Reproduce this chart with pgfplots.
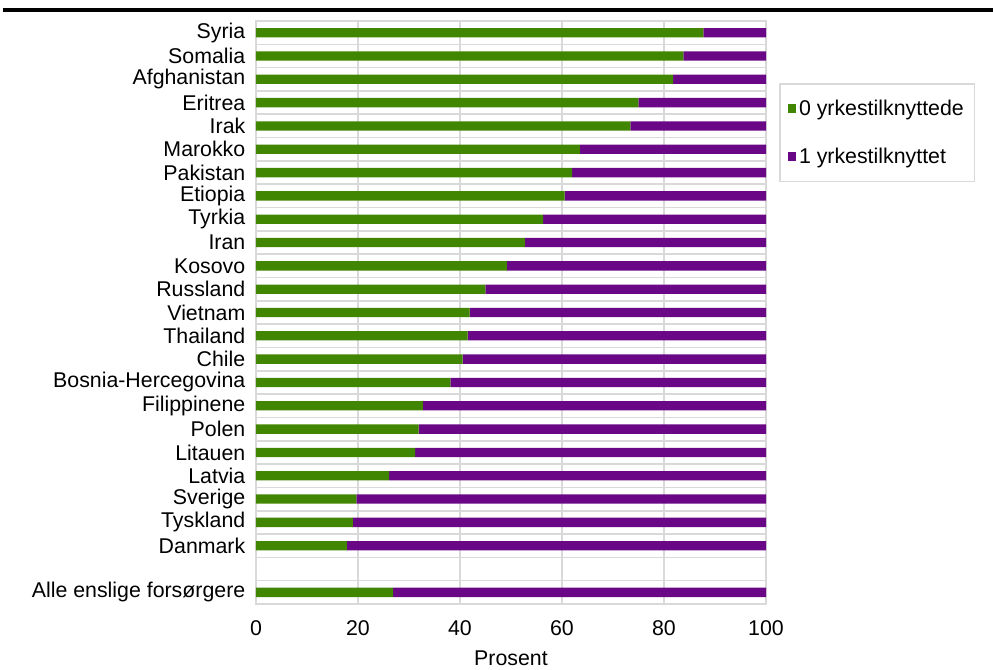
\documentclass[border=0pt]{standalone}
\usepackage{pgfplots}
\pgfplotsset{compat=1.18}
\usepackage{fontspec}
\setmainfont{Liberation Sans}
\definecolor{cgreen}{RGB}{64,134,0}
\definecolor{cpurple}{RGB}{105,7,134}
\definecolor{cgrid}{RGB}{217,217,217}
\begin{document}
\begin{tikzpicture}
\path[use as bounding box] (-192pt,-48.75pt) rectangle (552.75pt,453pt);
\draw[line width=3.4pt] (-189.75pt,445.5pt) -- (552.75pt,445.5pt);
\begin{axis}[
  at={(0pt,0pt)}, anchor=south west,
  xbar stacked, y dir=reverse,
  scale only axis, width=382.5pt, height=437.25pt,
  xmin=0, xmax=100, ymin=-0.5, ymax=24.5,
  bar width=7pt,
  xtick={0,20,...,100},
  ytick={0,...,22,24},
  yticklabels={Syria,Somalia,Afghanistan,Eritrea,Irak,Marokko,Pakistan,Etiopia,Tyrkia,Iran,Kosovo,Russland,Vietnam,Thailand,Chile,Bosnia-Hercegovina,Filippinene,Polen,Litauen,Latvia,Sverige,Tyskland,Danmark,Alle enslige forsørgere},
  minor ytick={0.5,1.5,...,23.5},
  xmajorgrids, yminorgrids,
  major grid style={cgrid, line width=1.2pt},
  minor grid style={cgrid, line width=1.2pt},
  axis line style={cgrid, line width=1.2pt},
  major tick length=0pt, minor tick length=0pt,
  tick label style={font=\fontsize{16}{18}\selectfont},
  /pgf/number format/assume math mode=true,
  yticklabel style={xshift=-4.5pt},
  xticklabel style={yshift=-9pt},
  xlabel={Prosent},
  xlabel style={font=\fontsize{16}{18}\selectfont, yshift=-4.5pt},
  legend style={at={(1.0255,0.8937)}, anchor=north west, draw=cgrid, line width=1.2pt,
    font=\fontsize{16}{18}\selectfont, row sep=19pt, inner xsep=6pt, inner ysep=10pt, cells={anchor=west}},
  legend image code/.code={\fill[#1] (0pt,-3.2pt) rectangle (6.4pt,3.2pt);},
  legend cell align=left,
]
\addplot[fill=cgreen, draw=none] coordinates {
(87.7,0) (83.8,1) (81.8,2) (75.0,3) (73.4,4) (63.5,5) (62.0,6) (60.5,7) (56.3,8) (52.7,9) (49.2,10) (45.0,11) (41.9,12) (41.5,13) (40.5,14) (38.1,15) (32.7,16) (31.9,17) (31.2,18) (26.1,19) (19.7,20) (19.0,21) (17.8,22) (26.9,24)};
\addplot[fill=cpurple, draw=none] coordinates {
(12.3,0) (16.2,1) (18.2,2) (25.0,3) (26.6,4) (36.5,5) (38.0,6) (39.5,7) (43.7,8) (47.3,9) (50.8,10) (55.0,11) (58.1,12) (58.5,13) (59.5,14) (61.9,15) (67.3,16) (68.1,17) (68.8,18) (73.9,19) (80.3,20) (81.0,21) (82.2,22) (73.1,24)};
\legend{0 yrkestilknyttede, 1 yrkestilknyttet}
\end{axis}
\end{tikzpicture}
\end{document}
